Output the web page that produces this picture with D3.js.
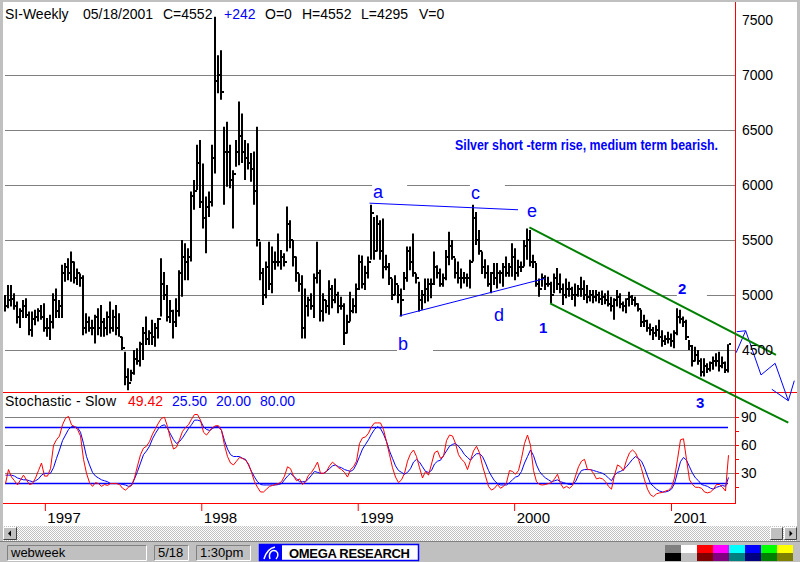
<!DOCTYPE html>
<html lang="en">
<head>
<meta charset="UTF-8">
<script src="https://d3js.org/d3.v7.min.js"></script>
<style>
  body { margin: 0; background: #fff; }
  #plot { position: absolute; left: 0; top: 0; width: 800px; height: 562px; }
  text { font-family: Arial, "Liberation Sans", sans-serif; }
</style>
</head>
<body>
<div id="plot"></div>
<script>
// weekly silver bars, oldest first; the last bar is the week of 05/18/2001
const lastWeek = new Date(2001, 4, 14);

const barHigh = [
  5000,5090,5090,5015,4940,4880,4955,4970,4850,4850,
  4865,4880,4910,4925,4790,4820,5015,5060,4955,5275,
  5290,5335,5395,5305,5240,5195,5180,4835,4805,4775,
  4820,4880,4910,4790,4850,4940,4865,4910,4835,4620,
  4485,4335,4320,4500,4515,4575,4710,4805,4680,4775,
  4745,4790,5335,5210,5090,4955,4865,4970,5225,5500,
  5470,5425,5940,6045,6365,6410,6195,5895,5940,6365,
  7530,7180,7225,6530,6575,6365,6135,6410,6760,6650,
  6410,6380,6290,6305,6530,5485,5245,5305,5485,5440,
  5395,5560,5410,5380,5805,5680,5500,5350,5195,5180,
  5060,4985,5015,5195,5485,5230,5015,4955,5135,5090,
  5150,5030,4985,4925,4820,5030,4970,5105,5365,5360,
  5265,5350,5820,5710,5725,5680,5695,5365,5290,5150,
  5180,5090,5060,5210,5440,5440,5560,5195,5120,5045,
  5150,5150,5150,5395,5270,5240,5195,5410,5575,5500,
  5335,5305,5240,5210,5195,5320,5820,5755,5590,5395,
  5325,5270,5210,5290,5290,5225,5290,5350,5290,5470,
  5425,5320,5305,5500,5605,5590,5365,5290,5150,5195,
  5180,5165,5120,5195,5245,5195,5105,5150,5120,5075,
  5105,5090,5165,5135,5090,5045,5045,5045,5030,5040,
  5015,5040,4985,4970,5045,5015,4940,4970,5030,5000,
  4985,4925,4865,4820,4775,4740,4710,4725,4775,4680,
  4635,4665,4650,4680,4880,4865,4805,4775,4590,4545,
  4530,4500,4425,4425,4380,4395,4440,4470,4485,4440,
  4395,4552
];
const barLow = [
  4850,4880,4895,4865,4740,4700,4790,4790,4635,4620,
  4725,4760,4775,4665,4620,4590,4695,4790,4790,4790,
  5120,5135,5120,5105,5090,5075,4635,4650,4665,4635,
  4560,4635,4620,4620,4635,4650,4665,4635,4620,4500,
  4180,4135,4215,4275,4365,4350,4410,4545,4545,4545,
  4530,4605,4805,4955,4760,4745,4605,4710,4805,4985,
  5135,5135,5305,5775,5955,5790,5605,5380,5710,5805,
  6105,6835,6775,5820,5985,5970,5605,6165,6180,6200,
  6045,6140,6030,5820,5440,5135,4910,4970,5045,5015,
  5230,5260,5230,5260,5395,5425,5260,5120,5030,4605,
  4605,4805,4865,4790,5105,4760,4760,4835,4820,4880,
  4925,4835,4865,4545,4650,4760,4835,4835,5045,5060,
  5045,5150,5320,5320,5395,5320,5150,5225,5090,4955,
  5000,4925,4805,5045,5120,5225,5165,5105,4850,4865,
  4925,4940,4970,5090,5150,5075,5075,5135,5270,5320,
  5150,5105,5060,5105,5075,5060,5305,5455,5365,5190,
  5150,5075,5015,5090,5060,5105,5075,5165,5165,5165,
  5135,5165,5210,5260,5320,5260,5245,5075,4985,5075,
  5045,5075,4925,5015,5045,5015,4910,4970,4985,4955,
  4895,4985,4985,4955,4925,4940,4925,4940,4925,4910,
  4915,4895,4850,4775,4895,4880,4850,4835,4895,4910,
  4895,4850,4710,4710,4665,4635,4590,4620,4590,4530,
  4545,4560,4530,4515,4635,4740,4710,4590,4500,4350,
  4395,4365,4260,4260,4290,4305,4320,4350,4305,4335,
  4290,4295
];
const barClose = [
  4900,4950,4960,4900,4800,4850,4900,4820,4680,4780,
  4800,4850,4800,4700,4700,4750,4950,4850,4900,5200,
  5250,5200,5300,5150,5200,5150,4700,4750,4700,4700,
  4800,4700,4750,4700,4800,4700,4800,4700,4620,4520,
  4250,4200,4290,4420,4400,4550,4650,4600,4650,4620,
  4700,4780,5100,5000,4800,4850,4750,4850,5200,5350,
  5300,5350,5900,5950,6200,5850,5700,5800,5850,6250,
  6950,7000,6850,6300,6300,6050,6100,6300,6450,6300,
  6250,6200,6150,5950,5500,5200,5000,5250,5100,5300,
  5300,5300,5350,5300,5650,5500,5350,5200,5100,4700,
  4900,4950,4900,5150,5200,4850,4950,4900,5050,4950,
  5000,4900,4900,4650,4750,4850,4900,5050,5300,5100,
  5200,5300,5750,5400,5650,5400,5250,5250,5150,5000,
  5100,5000,4950,5150,5400,5300,5200,5150,4950,5000,
  5050,5100,5100,5250,5200,5100,5150,5350,5450,5350,
  5200,5150,5150,5150,5150,5300,5700,5500,5400,5250,
  5200,5100,5200,5150,5200,5200,5250,5200,5250,5350,
  5200,5250,5250,5450,5500,5300,5300,5100,5050,5150,
  5100,5100,5000,5150,5100,5050,5000,5050,5050,5000,
  5000,5050,5050,5000,4980,5000,4980,5000,4960,4980,
  4950,4920,4900,4950,4980,4920,4900,4960,4980,4950,
  4920,4870,4750,4760,4700,4680,4650,4680,4620,4580,
  4600,4600,4580,4650,4800,4780,4750,4620,4540,4400,
  4450,4400,4300,4350,4330,4380,4400,4400,4350,4380,
  4320,4552
];

// Stochastic - Slow: %K (red) and %D (blue), one value per bar
const stochK = [
  19,34,26,22,17.5,23,28,23,18,19,
  25,33,41,27,27,35,60,66,70,82,
  89,91,82,80,77,70,45,30,20,16,
  20,19,16,18,17,19,19,19,18,14,
  12,15,17,25,38,50,57,59,64,72,
  78,84,89,90,80,67,56,58,66,75,
  79,82,88,93,93,87,74,71,75,79,
  81,81,76,60,48,41,39,43,47,46,
  44,40,31,21,15,10,10,13,16,17,
  18,19,21,27,37,35,27,22,24,18,
  21,28,31,36,42,30,30,32,38,42,
  39,36,34,31,26,34,37,43,62,68,
  69,73,80,84,84,84,77,64,50,36,
  26,20,23,30,43,51,55,48,36,25,
  32,28,40,52,54,46,48,65,71,70,
  62,50,45,42,34,44,54,59,52,38,
  27,16,12,14,18,14,16,20,33,32,
  29,33,46,62,71,60,33,21,18,17.5,
  18,19,20,24,29,19,14,16,14,17,
  27,37,43,45,34,34,30,24,25,24,
  21,16,13,28,39,37,33,44,52,55,
  52,45,35,23,13,7,5,8,9,9.5,
  11,12,15,25,45,66,67,45,23,18,
  15,15,14,10,9,10,13,18,18,15,
  11,49.42
];
const stochD = [
  28,28,28,27,25,24,23,23,22,21,
  22,24,28,30,30,30,36,46,55,65,
  71,77,80,80,79,74,62,48,39,31,
  27,25,23,22,21,19,19,19,19,18,
  17.5,16,17,24,32,41,50,54,59,67,
  73,78,81,82,78,72,66,62,64,68,
  73,78,82,87,87,86,80,77,76,78,
  80,80,76,65,56,50,48,48,48,46,
  45,39,32,26,21,18,17.5,17.5,17.5,17.5,
  17.5,18,19,23,27,30,27,24,21,21,
  21,24,28,32,31,30,30,32,35,38,
  39,37,36,34,33,32,34,40,48,56,
  61,66,72,77,80,78,72,64,54,46,
  38,33,31,29,31,35,42,45,42,37,
  32,31,33,40,43,44,49,54,59,61,
  62,59,55,50,47,44,48,51,51,48,
  41,33,27,22,19,17.5,17.5,17.5,20,23,
  26,27,32,41,48,55,49,39,32,28,
  25,23,21,22,23,21,20,19,18,18,
  21,28,33,34,34,34,33,32,31,30,
  28,25,22,28,31,32,34,37,41,45,
  48,46,43,36,27,19,16,13,11,10,
  10,11,13,19,31,42.5,47,44,37,30,
  25,22,18,17,16,14,13,15,16,17,
  16,25.5
];

const priceTicks = [4500, 5000, 5500, 6000, 6500, 7000, 7500];
const priceGrid = [4500, 5000, 5500, 6000, 6500, 7000];
const stochTicks = [30, 60, 90];
const stochBands = [20, 80];
const stochMinorTicks = [15, 30, 45, 60, 75, 90];

// header readings
const quoteDate = "05/18/2001";
const quoteClose = 4552, quoteChange = 242, quoteOpen = 0, quoteHigh = 4552, quoteLow = 4295, quoteVol = 0;
const stochReadings = ["49.42", "25.50", "20.00", "80.00"];

// hand drawn analysis, [bar index, price]
const triTop = [[121.5, 5835], [171, 5775]];
const triBottom = [[131.5, 4810], [180, 5150]];
const channelUpper = [[174.8, 5615], [257, 4455]];
const channelLower = [[181.7, 4924], [261.1, 3839]];
const projection = [[243.7, 4475], [246.9, 4675], [252, 4273], [256.7, 4379], [261.1, 4039], [263.1, 4221]];
const projTop = [[243.9, 4666], [246.9, 4675]];
const projTail = [[255.6, 4143], [261.1, 4039]];
const waveLabels = [
  {t: "a", i: 122.7, p: 5882, box: 35},
  {t: "c", i: 155.3, p: 5873, box: 35},
  {t: "e", i: 174.0, p: 5709, box: 0},
  {t: "b", i: 131.0, p: 4500, box: 36},
  {t: "d", i: 163.0, p: 4764, box: 0},
  {t: "1", i: 178.0, p: 4655, box: 0, bold: true},
  {t: "2", i: 224.3, p: 5009, box: 30, bold: true},
  {t: "3", i: 230.3, p: 3973, box: 0, bold: true}
];
const comment = "Silver short -term rise, medium term bearish.";
const commentAt = [150, 6318];

const paletteTop = ["#808080", "#ffffff", "#ff0000", "#ff00ff", "#00ffff", "#0000ff", "#00ff00", "#ffff00"];
const paletteBottom = ["#000000", "#c0c0c0", "#800000", "#800080", "#008080", "#000080", "#008000", "#808000"];

function drawChart() {
  const W = 800, H = 562;
  const n = barHigh.length;
  const WEEK = 7 * 864e5;
  const weeks = d3.range(n).map(i => d3.timeDay.offset(lastWeek, -7 * (n - 1 - i)));
  const idxDate = i => new Date(+weeks[0] + i * WEEK);

  const axisX = 735, panelTop = 392, panelBottom = 504;

  const x = d3.scaleTime().domain([weeks[0], weeks[n - 1]]).range([5, 728]);
  const y = d3.scaleLinear().domain([4118, 7664]).range([panelTop, 2]);
  const ys = d3.scaleLinear().domain([0, 100]).range([501.3, 408]);

  const bx = i => Math.round(x(weeks[i]));
  const crisp = v => Math.round(v) + 0.5;

  const svg = d3.select("#plot").append("svg")
      .attr("width", W).attr("height", H)
      .attr("viewBox", [0, 0, W, H]);

  const defs = svg.append("defs");
  const pat = defs.append("pattern").attr("id", "dither")
      .attr("width", 2).attr("height", 2).attr("patternUnits", "userSpaceOnUse");
  pat.append("rect").attr("width", 2).attr("height", 2).attr("fill", "#ffffff");
  pat.append("rect").attr("width", 1).attr("height", 1).attr("fill", "#c0c0c0");
  pat.append("rect").attr("x", 1).attr("y", 1).attr("width", 1).attr("height", 1).attr("fill", "#c0c0c0");

  svg.append("rect").attr("width", W).attr("height", H).attr("fill", "#fff");

  // grid lines
  svg.append("g").selectAll("line").data(priceGrid).join("line")
      .attr("x1", 5).attr("x2", axisX)
      .attr("y1", d => crisp(y(d))).attr("y2", d => crisp(y(d)))
      .attr("stroke", "#808080");
  svg.append("g").selectAll("line").data(stochTicks).join("line")
      .attr("x1", 5).attr("x2", axisX)
      .attr("y1", d => crisp(ys(d))).attr("y2", d => crisp(ys(d)))
      .attr("stroke", "#808080");

  // wave labels (white boxes break the grid lines)
  const lab = svg.append("g");
  lab.selectAll("rect").data(waveLabels.filter(d => d.box)).join("rect")
      .attr("x", d => x(idxDate(d.i)) - 1).attr("y", d => y(d.p) - 16)
      .attr("width", d => d.box).attr("height", 20).attr("fill", "#fff");
  lab.selectAll("text").data(waveLabels).join("text")
      .attr("x", d => x(idxDate(d.i))).attr("y", d => y(d.p))
      .attr("font-size", d => d.bold ? 15 : 18)
      .attr("font-weight", d => d.bold ? "bold" : "normal")
      .attr("fill", "#0000ff")
      .text(d => d.t);

  svg.append("text")
      .attr("x", x(idxDate(commentAt[0]))).attr("y", y(commentAt[1]))
      .attr("font-size", 14.5).attr("font-weight", "bold").attr("fill", "#0000ff")
      .attr("textLength", 263).attr("lengthAdjust", "spacingAndGlyphs")
      .text(comment);

  // stochastic bands
  svg.append("g").selectAll("line").data(stochBands).join("line")
      .attr("x1", 5).attr("x2", 728)
      .attr("y1", d => crisp(ys(d))).attr("y2", d => crisp(ys(d)))
      .attr("stroke", "#0000ff").attr("stroke-width", 1.3);

  // price bars
  const bars = svg.append("g").attr("stroke", "#000").attr("stroke-width", 2);
  bars.selectAll("line.hl").data(d3.range(n)).join("line").attr("class", "hl")
      .attr("x1", i => bx(i)).attr("x2", i => bx(i))
      .attr("y1", i => y(barHigh[i])).attr("y2", i => y(barLow[i]));
  bars.selectAll("line.cl").data(d3.range(n)).join("line").attr("class", "cl")
      .attr("x1", i => bx(i) + 1).attr("x2", i => bx(i) + 3)
      .attr("y1", i => Math.round(y(barClose[i]))).attr("y2", i => Math.round(y(barClose[i])));

  // stochastic lines
  const sline = arr => d3.line().x((d, i) => bx(i) + 0.5).y(d => ys(d))(arr);
  svg.append("path").attr("d", sline(stochD)).attr("fill", "none").attr("stroke", "#0000ff");
  svg.append("path").attr("d", sline(stochK)).attr("fill", "none").attr("stroke", "#ff0000");

  // red frame lines
  svg.append("line").attr("x1", 3).attr("x2", 797).attr("y1", panelTop + 0.5).attr("y2", panelTop + 0.5).attr("stroke", "#ff0000");
  svg.append("line").attr("x1", 3).attr("x2", axisX).attr("y1", panelBottom - 0.5).attr("y2", panelBottom - 0.5).attr("stroke", "#ff0000");
  svg.append("line").attr("x1", axisX + 0.5).attr("x2", axisX + 0.5).attr("y1", 2).attr("y2", panelBottom).attr("stroke", "#ff0000");
  svg.append("g").selectAll("line").data(stochMinorTicks).join("line")
      .attr("x1", axisX).attr("x2", axisX + 4)
      .attr("y1", d => crisp(ys(d))).attr("y2", d => crisp(ys(d)))
      .attr("stroke", "#ff0000");

  // analysis lines
  const seg = d3.line().x(d => x(idxDate(d[0]))).y(d => y(d[1]));
  [triTop, triBottom, projection, projTop, projTail].forEach(pts => {
    svg.append("path").attr("d", seg(pts)).attr("fill", "none").attr("stroke", "#0000ff");
  });
  [channelUpper, channelLower].forEach(pts => {
    svg.append("path").attr("d", seg(pts)).attr("fill", "none").attr("stroke", "#008000").attr("stroke-width", 2);
  });

  // right axes
  const gp = svg.append("g").attr("transform", `translate(${axisX},0)`)
      .call(d3.axisRight(y).tickValues(priceTicks).tickSize(0).tickPadding(7).tickFormat(d3.format("d")));
  const gs = svg.append("g").attr("transform", `translate(${axisX},0)`)
      .call(d3.axisRight(ys).tickValues(stochTicks).tickSize(0).tickPadding(6).tickFormat(d3.format("d")));
  [gp, gs].forEach(g => {
    g.select(".domain").remove();
    g.selectAll("text").attr("font-size", 14).attr("font-family", "Arial, 'Liberation Sans', sans-serif").attr("fill", "#000");
  });

  // date axis
  const gx = svg.append("g").attr("transform", `translate(0,${panelBottom - 1})`)
      .call(d3.axisBottom(x).ticks(d3.timeYear).tickFormat(d3.timeFormat("%Y")).tickSize(8));
  gx.select(".domain").remove();
  gx.selectAll("line").attr("stroke", "#ff0000");
  gx.selectAll("text").attr("text-anchor", "start").attr("x", 2).attr("y", 9)
      .attr("font-size", 15).attr("font-family", "Arial, 'Liberation Sans', sans-serif").attr("fill", "#000");

  // header lines
  const hdr = svg.append("g").attr("font-size", 14);
  const sign = quoteChange >= 0 ? "+" : "";
  [["SI-Weekly", 5, "#000"], [quoteDate, 83, "#000"], ["C=" + quoteClose, 163, "#000"],
   [sign + quoteChange, 224, "#0000ff"], ["O=" + quoteOpen, 265, "#000"], ["H=" + quoteHigh, 302, "#000"],
   ["L=" + quoteLow, 361, "#000"], ["V=" + quoteVol, 419, "#000"]].forEach(([t, px, c]) => {
    hdr.append("text").attr("x", px).attr("y", 19).attr("fill", c).text(t);
  });
  const sh = svg.append("g").attr("font-size", 14);
  sh.append("text").attr("x", 5).attr("y", 406).attr("textLength", 111).text("Stochastic - Slow");
  stochReadings.forEach((t, i) => {
    sh.append("text").attr("x", 128 + i * 44).attr("y", 406)
        .attr("fill", i === 0 ? "#ff0000" : "#0000ff").text(t);
  });

  // window chrome
  svg.append("rect").attr("x", 0).attr("y", 0).attr("width", W).attr("height", 2).attr("fill", "#c0c0c0");
  svg.append("rect").attr("x", 0).attr("y", 0).attr("width", 3).attr("height", 541).attr("fill", "#c0c0c0");
  svg.append("rect").attr("x", 797).attr("y", 0).attr("width", 3).attr("height", 541).attr("fill", "#c0c0c0");

  // scroll bar
  svg.append("rect").attr("x", 3).attr("y", 526).attr("width", 794).attr("height", 15).attr("fill", "url(#dither)");
  function button(bx0, w, arrow) {
    svg.append("rect").attr("x", bx0).attr("y", 527).attr("width", w).attr("height", 13).attr("fill", "#c0c0c0");
    svg.append("path").attr("d", `M${bx0 + 0.5},539.5V527.5H${bx0 + w - 0.5}`).attr("fill", "none").attr("stroke", "#fff");
    svg.append("path").attr("d", `M${bx0 + 0.5},539.5H${bx0 + w - 0.5}V527.5`).attr("fill", "none").attr("stroke", "#404040");
    if (arrow) {
      const cx = bx0 + w / 2;
      const pts = arrow < 0 ? `${cx - 2},533.5 ${cx + 1},530.5 ${cx + 1},536.5` : `${cx + 2},533.5 ${cx - 1},530.5 ${cx - 1},536.5`;
      svg.append("polygon").attr("points", pts).attr("fill", "#000");
    }
  }
  button(3, 14, -1);
  button(770, 13, 0);
  button(784, 13, 1);

  // status bar
  svg.append("rect").attr("x", 0).attr("y", 541).attr("width", W).attr("height", 1).attr("fill", "#808080");
  svg.append("rect").attr("x", 0).attr("y", 542).attr("width", W).attr("height", 20).attr("fill", "#c0c0c0");
  function sunken(sx, w, t) {
    svg.append("path").attr("d", `M${sx + 0.5},560.5V545.5H${sx + w - 0.5}`).attr("fill", "none").attr("stroke", "#808080");
    svg.append("path").attr("d", `M${sx + 0.5},560.5H${sx + w - 0.5}V545.5`).attr("fill", "none").attr("stroke", "#fff");
    svg.append("text").attr("x", sx + 4).attr("y", 557).attr("font-size", 13).attr("fill", "#000").text(t);
  }
  sunken(7, 140, "webweek");
  sunken(154, 35, "5/18");
  sunken(196, 55, "1:30pm");

  svg.append("rect").attr("x", 259.5).attr("y", 544.5).attr("width", 159).attr("height", 16)
      .attr("fill", "#fff").attr("stroke", "#0000ff").attr("stroke-width", 1.5);
  svg.append("rect").attr("x", 260).attr("y", 545).attr("width", 22).attr("height", 15).attr("fill", "#0000ff");
  svg.append("path").attr("d", "M264,559 C266,552 270,548 275,547 M270,559 C268,553 272,549 276,551 C279,553 278,557 276,559")
      .attr("fill", "none").attr("stroke", "#fff").attr("stroke-width", 1.5);
  svg.append("text").attr("x", 289).attr("y", 558).attr("font-size", 13).attr("font-weight", "bold")
      .attr("textLength", 121).attr("lengthAdjust", "spacing").attr("fill", "#000").text("OMEGA RESEARCH");

  // colour palette
  [paletteTop, paletteBottom].forEach((row, r) => {
    svg.append("g").selectAll("rect").data(row).join("rect")
        .attr("x", (d, i) => 665 + i * 16).attr("y", 545 + r * 8)
        .attr("width", 16).attr("height", 8).attr("fill", d => d);
  });
}

function init() {
  drawChart();
}

window.onload = init;
</script>
</body>
</html>
